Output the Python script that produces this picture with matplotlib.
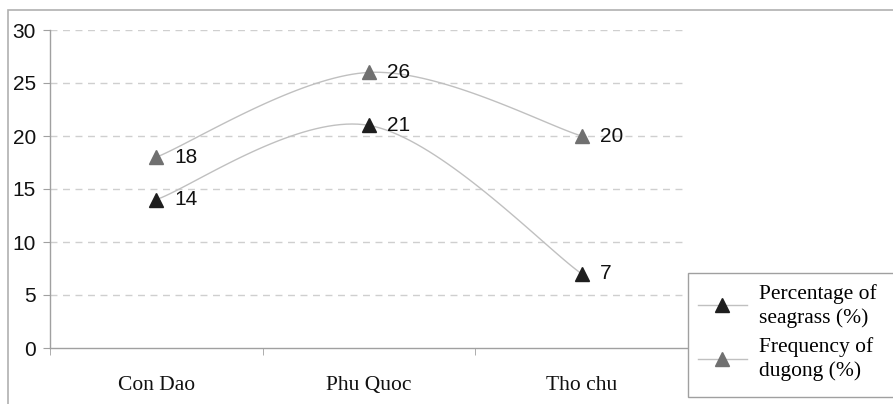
import matplotlib
matplotlib.use("Agg")
import matplotlib.pyplot as plt
import numpy as np
from matplotlib.patches import Rectangle
from matplotlib.lines import Line2D

categories = ["Con Dao", "Phu Quoc", "Tho chu"]
seagrass = [14, 21, 7]
dugong = [18, 26, 20]
series_names = ["Percentage of\nseagrass (%)", "Frequency of\ndugong (%)"]
yticks = [0, 5, 10, 15, 20, 25, 30]


def smooth(xs, ys, n=40):
    # Excel-style smoothed line (Catmull-Rom Bezier)
    P = np.column_stack([xs, ys]).astype(float)
    pts = []
    for i in range(len(P) - 1):
        p0 = P[i - 1] if i > 0 else P[i]
        p1 = P[i]
        p2 = P[i + 1]
        p3 = P[i + 2] if i + 2 < len(P) else P[i + 1]
        c1 = p1 + (p2 - p0) / 6.0
        c2 = p2 - (p3 - p1) / 6.0
        t = np.linspace(0, 1, n)[:, None]
        seg = ((1 - t) ** 3) * p1 + 3 * ((1 - t) ** 2) * t * c1 + 3 * (1 - t) * t ** 2 * c2 + t ** 3 * p2
        pts.append(seg if i == 0 else seg[1:])
    pts = np.vstack(pts)
    return pts[:, 0], pts[:, 1]


W, H = 893, 404
fig = plt.figure(figsize=(W / 100, H / 100), dpi=100)
fig.patch.set_facecolor("white")

# outer chart border
fig.patches.append(Rectangle((8 / W, -0.05), 1.0, 1 - 10 / H + 0.05, transform=fig.transFigure,
                             fill=False, edgecolor="#b0b0b0", linewidth=1.2, zorder=0))
# legend box (runs off the right edge like the reference)
fig.patches.append(Rectangle((688 / W, 1 - 397 / H), 1.0, (397 - 273) / H, transform=fig.transFigure,
                             fill=True, facecolor="white", edgecolor="#a0a0a0", linewidth=1.0, zorder=5))

ax = fig.add_axes([50 / W, (H - 348) / H, (688 - 50) / W, (348 - 30) / H])
x = np.arange(len(categories))

line_col = "#c0c0c0"
col_seagrass = "#1e1e1e"
col_dugong = "#707070"

for vals, mc in [(seagrass, col_seagrass), (dugong, col_dugong)]:
    sx, sy = smooth(x, vals)
    ax.plot(sx, sy, color=line_col, lw=1.0, zorder=2)
    ax.plot(x, vals, linestyle="none", marker="^", ms=10.5, color=mc, zorder=3)
    for xi, v in zip(x, vals):
        ax.annotate(str(v), (xi, v), xytext=(13, 0), textcoords="offset points",
                    va="center", ha="left", fontsize=15, family="Liberation Sans", color="#111111")

ax.set_xlim(-0.5, len(categories) - 0.5)
ax.set_ylim(0, 30)
ax.set_yticks(yticks)
ax.set_yticklabels([str(t) for t in yticks], family="Liberation Sans", fontsize=15, color="#111111")
ax.set_xticks(x)
ax.set_xticklabels(categories, family="Liberation Serif", fontsize=15.5, color="#111111")
ax.set_xticks(np.arange(len(categories) + 1) - 0.5, minor=True)
ax.tick_params(axis="x", which="major", length=0, pad=20)
ax.tick_params(axis="x", which="minor", length=5, color="#a0a0a0", direction="out")
ax.tick_params(axis="y", length=5, color="#a0a0a0", pad=5)

for yv in yticks[1:]:
    ax.axhline(yv, color="#cfcfcf", lw=1.0, ls=(0, (5, 4)), zorder=1)

for s in ["top", "right"]:
    ax.spines[s].set_visible(False)
for s in ["left", "bottom"]:
    ax.spines[s].set_color("#a0a0a0")
    ax.spines[s].set_linewidth(1.0)

handles = [
    Line2D([], [], color=line_col, lw=1.0, marker="^", ms=10.5, markerfacecolor=col_seagrass, markeredgecolor=col_seagrass),
    Line2D([], [], color=line_col, lw=1.0, marker="^", ms=10.5, markerfacecolor=col_dugong, markeredgecolor=col_dugong),
]
leg = fig.legend(handles, series_names, loc="upper left", bbox_to_anchor=(688 / W, 1 - 274 / H),
                 borderaxespad=0, frameon=False, handlelength=2.3,
                 prop={"family": "Liberation Serif", "size": 15.5}, labelspacing=0.45,
                 borderpad=0.45, handletextpad=0.55)
for t in leg.get_texts():
    t.set_linespacing(1.3)
leg.set_zorder(6)

fig.savefig("out.png", dpi=100, facecolor="white")
